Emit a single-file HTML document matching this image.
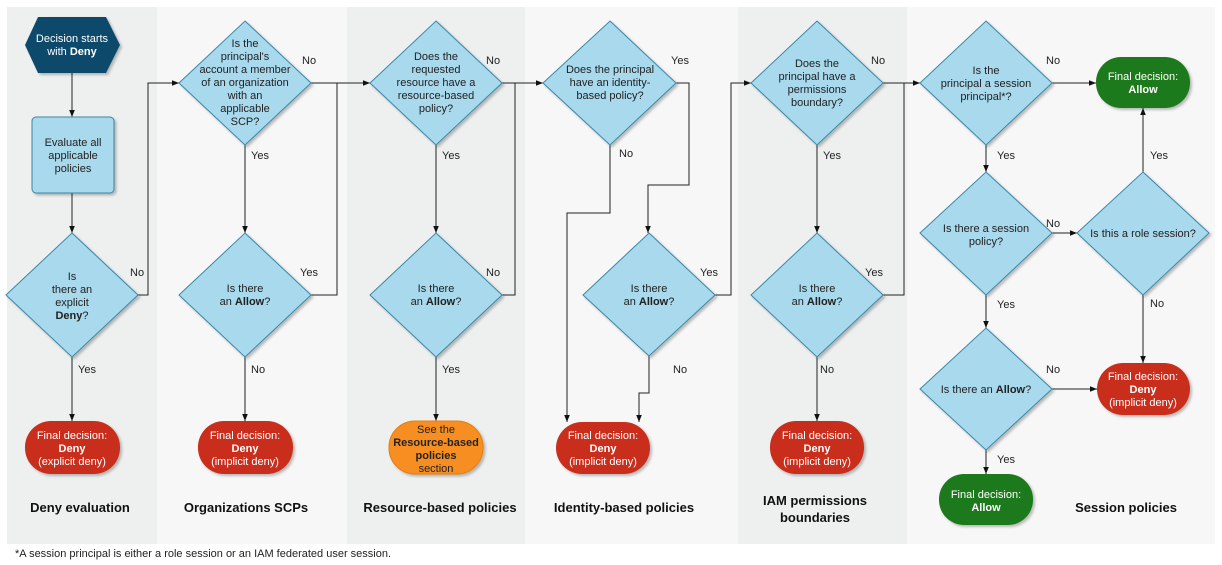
<!DOCTYPE html>
<html><head><meta charset="utf-8"><style>
html,body{margin:0;padding:0;background:#fff;width:1222px;height:565px;overflow:hidden}
svg{display:block;font-family:"Liberation Sans",Arial,sans-serif}
.d{fill:#a8d9ed;stroke:#3a87a8;stroke-width:1}
.t{font-size:11px;fill:#222;text-anchor:middle}
.w{font-size:11px;fill:#fff;text-anchor:middle}
.l{font-size:11px;fill:#222}
.c{fill:none;stroke:#222;stroke-width:1}
.h{font-size:13px;font-weight:bold;fill:#111;text-anchor:middle}
</style></head><body>
<svg width="1222" height="565" viewBox="0 0 1222 565">
<defs><marker id="a" viewBox="0 0 10 10" refX="10" refY="5" markerWidth="7" markerHeight="7" orient="auto"><path d="M0,1 L10,5 L0,9 z" fill="#111"/></marker>
<filter id="s" x="-10%" y="-10%" width="130%" height="130%"><feDropShadow dx="2" dy="2" stdDeviation="1.2" flood-color="#000" flood-opacity="0.25"/></filter></defs>
<rect x="7" y="7" width="150" height="537" fill="#eef0f0"/>
<rect x="157" y="7" width="190" height="537" fill="#f7f7f7"/>
<rect x="347" y="7" width="178" height="537" fill="#eef0f0"/>
<rect x="525" y="7" width="213" height="537" fill="#f7f7f7"/>
<rect x="738" y="7" width="169" height="537" fill="#eef0f0"/>
<rect x="907" y="7" width="308" height="537" fill="#f7f7f7"/>

<!-- connectors -->
<path class="c" marker-end="url(#a)" d="M72,73 V117"/>
<path class="c" marker-end="url(#a)" d="M72,193 V233"/>
<path class="c" marker-end="url(#a)" d="M138,295 H148 V83 H179"/>
<path class="c" marker-end="url(#a)" d="M72,357 V421"/>
<path class="c" marker-end="url(#a)" d="M245,145 V233"/>
<path class="c" marker-end="url(#a)" d="M245,357 V421"/>
<path class="c" marker-end="url(#a)" d="M311,83 H370"/>
<path class="c" d="M311,295 H337 V83"/>
<path class="c" marker-end="url(#a)" d="M436,145 V233"/>
<path class="c" marker-end="url(#a)" d="M436,357 V421"/>
<path class="c" marker-end="url(#a)" d="M502,83 H543"/>
<path class="c" d="M502,295 H515 V83"/>
<path class="c" marker-end="url(#a)" d="M676,83 H689 V185 H648 V233"/>
<path class="c" marker-end="url(#a)" d="M610,145 V213 H567 V422"/>
<path class="c" marker-end="url(#a)" d="M649,356 V393 H639 V422"/>
<path class="c" marker-end="url(#a)" d="M715,295 H731 V83 H751"/>
<path class="c" marker-end="url(#a)" d="M817,145 V233"/>
<path class="c" marker-end="url(#a)" d="M817,357 V421"/>
<path class="c" marker-end="url(#a)" d="M883,83 H920"/>
<path class="c" d="M883,295 H904 V83"/>
<path class="c" marker-end="url(#a)" d="M1052,83 H1096"/>
<path class="c" marker-end="url(#a)" d="M986,145 V172"/>
<path class="c" marker-end="url(#a)" d="M1052,233 H1077"/>
<path class="c" marker-end="url(#a)" d="M1143,172 V108"/>
<path class="c" marker-end="url(#a)" d="M1143,295 V363"/>
<path class="c" marker-end="url(#a)" d="M986,295 V328"/>
<path class="c" marker-end="url(#a)" d="M1052,389 H1097"/>
<path class="c" marker-end="url(#a)" d="M986,450 V474"/>

<!-- shapes -->
<polygon points="38,17 106,17 120,45 106,73 38,73 25,45" fill="#0e4a6b" filter="url(#s)"/>
<text class="w" x="72" y="42">Decision starts</text><text class="w" x="72" y="55">with <tspan font-weight="bold">Deny</tspan></text>
<rect x="32" y="117" width="82" height="76" rx="4" class="d" filter="url(#s)"/>
<text class="t" x="73" y="146">Evaluate all</text><text class="t" x="73" y="159">applicable</text><text class="t" x="73" y="172">policies</text>

<g filter="url(#s)">
<polygon class="d" points="72,233 138,295 72,357 6,295"/>
<polygon class="d" points="245,21 311,83 245,145 179,83"/>
<polygon class="d" points="245,233 311,295 245,357 179,295"/>
<polygon class="d" points="436,21 502,83 436,145 370,83"/>
<polygon class="d" points="436,233 502,295 436,357 370,295"/>
<polygon class="d" points="610,21 676,83 610,145 543,83"/>
<polygon class="d" points="649,233 715,295 649,356 583,295"/>
<polygon class="d" points="817,21 883,83 817,145 751,83"/>
<polygon class="d" points="817,233 883,295 817,357 751,295"/>
<polygon class="d" points="986,21 1052,83 986,145 920,83"/>
<polygon class="d" points="986,172 1052,233 986,295 920,233"/>
<polygon class="d" points="1143,172 1209,233 1143,295 1077,233"/>
<polygon class="d" points="986,328 1052,389 986,450 920,389"/>
<rect x="25" y="421" width="95" height="53" rx="26" fill="#c92f1a"/>
<rect x="198" y="421" width="95" height="53" rx="26" fill="#c92f1a"/>
<rect x="389" y="421" width="94" height="53" rx="26" fill="#f78e22" stroke="#e87b10"/>
<rect x="556" y="422" width="94" height="52" rx="26" fill="#c92f1a"/>
<rect x="770" y="421" width="94" height="53" rx="26" fill="#c92f1a"/>
<rect x="1097" y="363" width="93" height="52" rx="26" fill="#c92f1a"/>
<rect x="1096" y="57" width="94" height="51" rx="25" fill="#1e7a1e"/>
<rect x="939" y="474" width="94" height="51" rx="25" fill="#1e7a1e"/>
</g>

<text class="t" x="72" y="280">Is</text><text class="t" x="72" y="293">there an</text><text class="t" x="72" y="306">explicit</text><text class="t" x="72" y="319" font-weight="bold">Deny<tspan font-weight="normal">?</tspan></text>
<text class="t" x="245" y="47">Is the</text><text class="t" x="245" y="60">principal's</text><text class="t" x="245" y="73">account a member</text><text class="t" x="245" y="86">of an organization</text><text class="t" x="245" y="99">with an</text><text class="t" x="245" y="112">applicable</text><text class="t" x="245" y="125">SCP?</text>
<text class="t" x="245" y="292">Is there</text><text class="t" x="245" y="305">an <tspan font-weight="bold">Allow</tspan>?</text>
<text class="t" x="436" y="60">Does the</text><text class="t" x="436" y="73">requested</text><text class="t" x="436" y="86">resource have a</text><text class="t" x="436" y="99">resource-based</text><text class="t" x="436" y="112">policy?</text>
<text class="t" x="436" y="292">Is there</text><text class="t" x="436" y="305">an <tspan font-weight="bold">Allow</tspan>?</text>
<text class="t" x="610" y="73">Does the principal</text><text class="t" x="610" y="86">have an identity-</text><text class="t" x="610" y="99">based policy?</text>
<text class="t" x="649" y="292">Is there</text><text class="t" x="649" y="305">an <tspan font-weight="bold">Allow</tspan>?</text>
<text class="t" x="817" y="67">Does the</text><text class="t" x="817" y="80">principal have a</text><text class="t" x="817" y="93">permissions</text><text class="t" x="817" y="106">boundary?</text>
<text class="t" x="817" y="292">Is there</text><text class="t" x="817" y="305">an <tspan font-weight="bold">Allow</tspan>?</text>
<text class="t" x="986" y="74">Is the</text><text class="t" x="986" y="87">principal a session</text><text class="t" x="986" y="100">principal*?</text>
<text class="t" x="986" y="232">Is there a session</text><text class="t" x="986" y="245">policy?</text>
<text class="t" x="1143" y="237">Is this a role session?</text>
<text class="t" x="986" y="393">Is there an <tspan font-weight="bold">Allow</tspan>?</text>

<text class="w" x="72" y="439">Final decision:</text><text class="w" x="72" y="452" font-weight="bold">Deny</text><text class="w" x="72" y="465">(explicit deny)</text>
<text class="w" x="245" y="439">Final decision:</text><text class="w" x="245" y="452" font-weight="bold">Deny</text><text class="w" x="245" y="465">(implicit deny)</text>
<text class="t" x="436" y="433">See the</text><text class="t" x="436" y="446" font-weight="bold">Resource-based</text><text class="t" x="436" y="459" font-weight="bold">policies</text><text class="t" x="436" y="472">section</text>
<text class="w" x="603" y="439">Final decision:</text><text class="w" x="603" y="452" font-weight="bold">Deny</text><text class="w" x="603" y="465">(implicit deny)</text>
<text class="w" x="817" y="439">Final decision:</text><text class="w" x="817" y="452" font-weight="bold">Deny</text><text class="w" x="817" y="465">(implicit deny)</text>
<text class="w" x="1143" y="380">Final decision:</text><text class="w" x="1143" y="393" font-weight="bold">Deny</text><text class="w" x="1143" y="406">(implicit deny)</text>
<text class="w" x="1143" y="80">Final decision:</text><text class="w" x="1143" y="93" font-weight="bold">Allow</text>
<text class="w" x="986" y="498">Final decision:</text><text class="w" x="986" y="511" font-weight="bold">Allow</text>

<text class="l" x="130" y="276">No</text><text class="l" x="78" y="373">Yes</text>
<text class="l" x="251" y="159">Yes</text><text class="l" x="251" y="373">No</text>
<text class="l" x="302" y="64">No</text><text class="l" x="300" y="276">Yes</text>
<text class="l" x="442" y="159">Yes</text><text class="l" x="442" y="373">Yes</text>
<text class="l" x="486" y="64">No</text><text class="l" x="486" y="276">No</text>
<text class="l" x="671" y="64">Yes</text><text class="l" x="619" y="157">No</text>
<text class="l" x="700" y="276">Yes</text><text class="l" x="673" y="373">No</text>
<text class="l" x="823" y="159">Yes</text><text class="l" x="820" y="373">No</text>
<text class="l" x="871" y="64">No</text><text class="l" x="865" y="276">Yes</text>
<text class="l" x="1046" y="64">No</text><text class="l" x="997" y="159">Yes</text>
<text class="l" x="1046" y="227">No</text><text class="l" x="1150" y="159">Yes</text>
<text class="l" x="1150" y="307">No</text><text class="l" x="997" y="308">Yes</text>
<text class="l" x="1046" y="373">No</text><text class="l" x="997" y="463">Yes</text>

<text class="h" x="80" y="512">Deny evaluation</text>
<text class="h" x="246" y="512">Organizations SCPs</text>
<text class="h" x="440" y="512">Resource-based policies</text>
<text class="h" x="624" y="512">Identity-based policies</text>
<text class="h" x="815" y="505">IAM permissions</text><text class="h" x="815" y="522">boundaries</text>
<text class="h" x="1126" y="512">Session policies</text>
<text x="15" y="557" font-size="11" fill="#222">*A session principal is either a role session or an IAM federated user session.</text>
</svg>
</body></html>
